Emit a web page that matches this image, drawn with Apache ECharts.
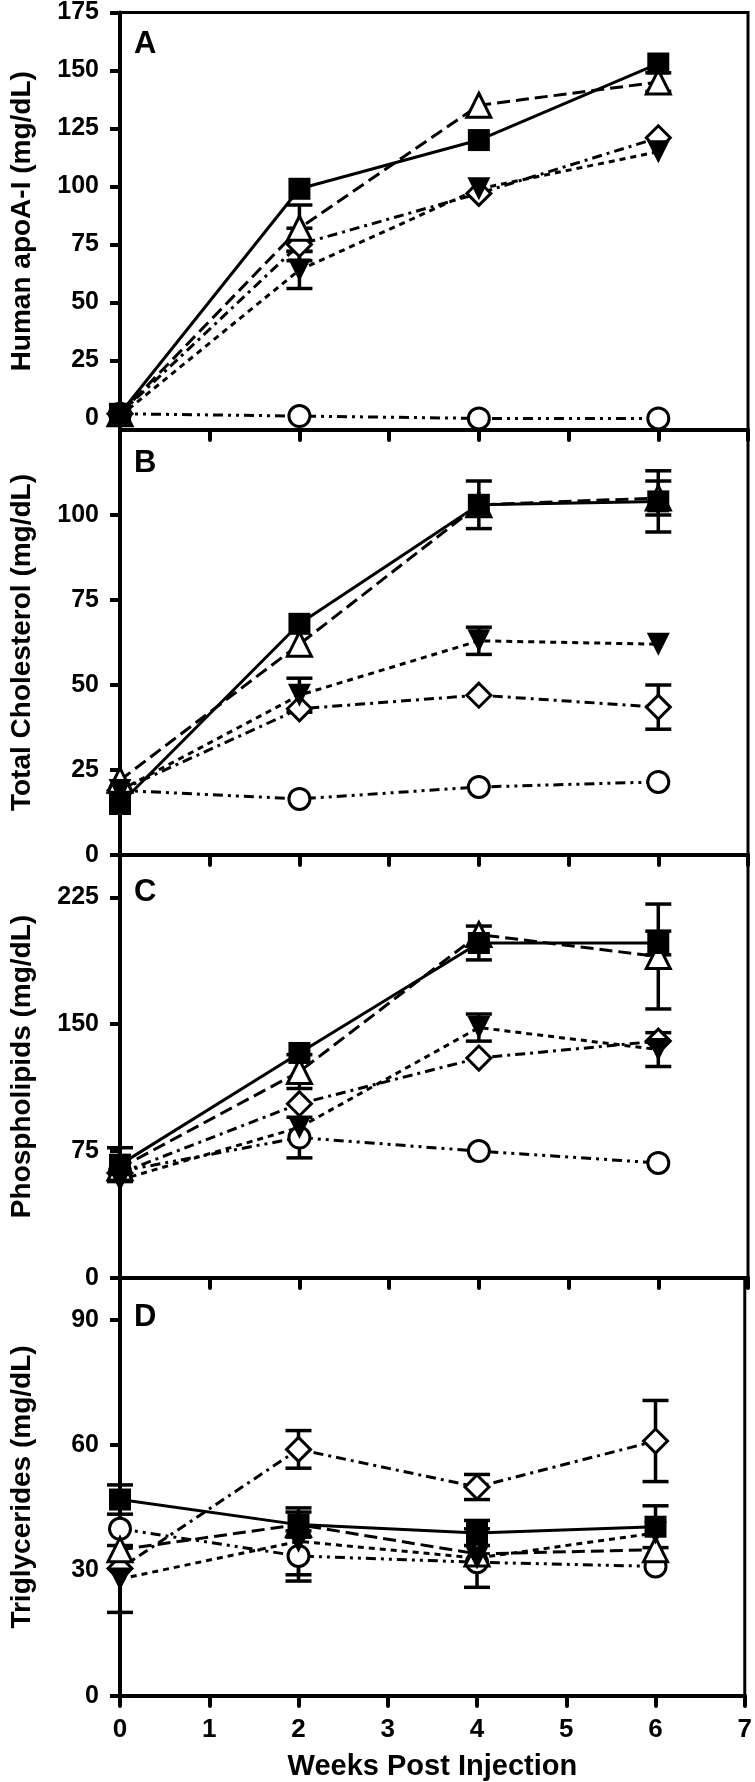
<!DOCTYPE html>
<html>
<head>
<meta charset="utf-8">
<script src="https://cdn.jsdelivr.net/npm/echarts@6/dist/echarts.min.js"></script>
<style>
html,body{margin:0;padding:0;background:#fff;}
#chart{width:755px;height:1782px;}
</style>
</head>
<body>
<div id="chart"></div>
<script>
// ---------------- DATA ----------------
const weeks = [0, 2, 4, 6];
const xTicks = [0, 1, 2, 3, 4, 5, 6, 7];

// Panel A: Human apoA-I (mg/dL)
const apoaTicks = [0, 25, 50, 75, 100, 125, 150, 175];
const apoaSquare      = [2, 99, 120, 153];
const apoaSquareErr   = [0, 0, 0, 0];
const apoaTriangle    = [2, 82, 135, 145];
const apoaTriangleErr = [0, 10, 0, 4];
const apoaDiamond     = [2, 75, 97, 121];
const apoaDiamondErr  = [0, 7, 0, 0];
const apoaInvTri      = [1, 64, 99, 115];
const apoaInvTriErr   = [0, 8, 0, 0];
const apoaCircle      = [2, 1, 0, 0];
const apoaCircleErr   = [0, 0, 0, 0];

// Panel B: Total Cholesterol (mg/dL)
const cholTicks = [0, 25, 50, 75, 100];
const cholSquare      = [15, 68, 103, 104];
const cholSquareErr   = [0, 0, 7, 9];
const cholTriangle    = [22, 62, 103, 105];
const cholTriangleErr = [0, 0, 0, 5];
const cholDiamond     = [19, 43, 47, 43.5];
const cholDiamondErr  = [0, 0, 0, 6.5];
const cholInvTri      = [19, 47, 63, 62];
const cholInvTriErr   = [0, 5, 4, 0];
const cholCircle      = [19, 16.5, 20, 21.5];
const cholCircleErr   = [0, 0, 0, 0];

// Panel C: Phospholipids (mg/dL)
const plTicks = [0, 75, 150, 225];
const plSquare      = [67, 133, 198, 198];
const plSquareErr   = [10, 0, 10, 7];
const plTriangle    = [65, 122, 203, 190];
const plTriangleErr = [0, 10, 0, 31];
const plDiamond     = [62, 103, 130, 140];
const plDiamondErr  = [0, 0, 0, 0];
const plInvTri      = [58, 89, 148, 135];
const plInvTriErr   = [0, 0, 8, 10];
const plCircle      = [63, 83, 75, 68];
const plCircleErr   = [0, 12, 0, 0];

// Panel D: Triglycerides (mg/dL)
const tgTicks = [0, 30, 60, 90];
const tgSquare      = [47, 41, 39, 40.5];
const tgSquareErr   = [3.5, 3, 3, 5];
const tgTriangle    = [35, 41, 34, 35];
const tgTriangleErr = [0, 0, 0, 0];
const tgDiamond     = [30.5, 59, 50, 61];
const tgDiamondErr  = [0, 4.5, 3, 9.7];
const tgInvTri      = [28, 37, 33, 39];
const tgInvTriErr   = [8, 8, 7, 0];
const tgCircle      = [40, 33.5, 32, 31];
const tgCircleErr   = [0, 6, 0, 0];

// ---------------- LAYOUT / STYLE ----------------
const FONT = "'Liberation Sans', Arial, Helvetica, sans-serif";
const GRID_LEFT = 116, GRID_W = 632;

const panels = [
  { letter: 'A', name: 'Human apoA-I (mg/dL)', min: -5, max: 175, step: 5, ticks: apoaTicks, top: 11, height: 419, letterY: 44,
    data: { circle: [apoaCircle, apoaCircleErr], diamond: [apoaDiamond, apoaDiamondErr], invTri: [apoaInvTri, apoaInvTriErr], triangle: [apoaTriangle, apoaTriangleErr], square: [apoaSquare, apoaSquareErr] } },
  { letter: 'B', name: 'Total Cholesterol (mg/dL)', min: 0, max: 125, step: 5, ticks: cholTicks, top: 430, height: 425, letterY: 463,
    data: { circle: [cholCircle, cholCircleErr], diamond: [cholDiamond, cholDiamondErr], invTri: [cholInvTri, cholInvTriErr], triangle: [cholTriangle, cholTriangleErr], square: [cholSquare, cholSquareErr] } },
  { letter: 'C', name: 'Phospholipids (mg/dL)', min: 0, max: 250, step: 5, ticks: plTicks, top: 855, height: 423, letterY: 892,
    data: { circle: [plCircle, plCircleErr], diamond: [plDiamond, plDiamondErr], invTri: [plInvTri, plInvTriErr], triangle: [plTriangle, plTriangleErr], square: [plSquare, plSquareErr] } },
  { letter: 'D', name: 'Triglycerides (mg/dL)', min: 0, max: 100, step: 5, ticks: tgTicks, top: 1278, height: 419, letterY: 1317,
    data: { circle: [tgCircle, tgCircleErr], diamond: [tgDiamond, tgDiamondErr], invTri: [tgInvTri, tgInvTriErr], triangle: [tgTriangle, tgTriangleErr], square: [tgSquare, tgSquareErr] } }
];

const markers = {
  circle:   { symbol: 'circle',   rotate: 0,   filled: false, size: 21, dash: [10, 5, 3, 5, 3, 5] },
  diamond:  { symbol: 'diamond',  rotate: 0,   filled: false, size: 24, dash: [10, 5, 3, 5] },
  invTri:   { symbol: 'triangle', rotate: 180, filled: true,  size: 23, dash: [6, 5] },
  triangle: { symbol: 'triangle', rotate: 0,   filled: false, size: 24, dash: [13, 6] },
  square:   { symbol: 'rect',     rotate: 0,   filled: true,  size: 22, dash: 'solid' }
};
const order = ['circle', 'diamond', 'triangle', 'invTri', 'square'];

const grids = [], xAxes = [], yAxes = [], series = [], graphics = [];

panels.forEach((p, i) => {
  const last = i === panels.length - 1;
  grids.push({ left: GRID_LEFT, width: GRID_W, top: p.top, height: p.height,
    show: true, borderColor: '#000', borderWidth: 3, backgroundColor: 'transparent' });
  xAxes.push({
    type: 'value', gridIndex: i, min: 0, max: 7, interval: 1,
    axisLine: { show: true, onZero: false, lineStyle: { color: '#000', width: 4 } },
    axisTick: { show: true, inside: false, length: 10, lineStyle: { color: '#000', width: 4, cap: 'round' } },
    axisLabel: { show: last, margin: 21, color: '#000', fontFamily: FONT, fontWeight: 'bold', fontSize: 26,
      customValues: xTicks },
    splitLine: { show: false },
    name: last ? 'Weeks Post Injection' : '',
    nameLocation: 'middle', nameGap: 56,
    nameTextStyle: { color: '#000', fontFamily: FONT, fontWeight: 'bold', fontSize: 29 }
  });
  yAxes.push({
    type: 'value', gridIndex: i, min: p.min, max: p.max, interval: p.step,
    axisLine: { show: true, onZero: false, lineStyle: { color: '#000', width: 4 } },
    axisTick: { show: true, inside: false, length: 10, customValues: p.ticks, lineStyle: { color: '#000', width: 4 } },
    axisLabel: { show: true, margin: 21, color: '#000', fontFamily: FONT, fontWeight: 'bold', fontSize: 25, customValues: p.ticks },
    splitLine: { show: false },
    name: p.name, nameLocation: 'middle', nameGap: 84,
    nameTextStyle: { color: '#000', fontFamily: FONT, fontWeight: 'bold', fontSize: 28 }
  });
  order.forEach(key => {
    const m = markers[key];
    const vals = p.data[key][0], errs = p.data[key][1];
    // error bars
    series.push({
      type: 'custom', xAxisIndex: i, yAxisIndex: i, z: 2, silent: true, animation: false,
      encode: { x: 0, y: 1 },
      data: weeks.map((w, j) => [w, vals[j], errs[j]]).filter(d => d[2] > 0),
      renderItem: function (params, api) {
        const x = api.value(0), v = api.value(1), e = api.value(2);
        const t = api.coord([x, v + e]), b = api.coord([x, v - e]);
        const hw = 13;
        const st = { stroke: '#000', lineWidth: 3.5 };
        return { type: 'group', children: [
          { type: 'line', shape: { x1: t[0], y1: t[1], x2: b[0], y2: b[1] }, style: st },
          { type: 'line', shape: { x1: t[0] - hw, y1: t[1], x2: t[0] + hw, y2: t[1] }, style: st },
          { type: 'line', shape: { x1: b[0] - hw, y1: b[1], x2: b[0] + hw, y2: b[1] }, style: st }
        ] };
      }
    });
    series.push({
      type: 'line', xAxisIndex: i, yAxisIndex: i, z: 3, animation: false, silent: true,
      data: weeks.map((w, j) => [w, vals[j]]),
      symbol: m.symbol, symbolSize: m.size, symbolRotate: m.rotate, showSymbol: true,
      lineStyle: { color: '#000', width: 3, type: m.dash },
      itemStyle: { color: m.filled ? '#000' : '#fff', borderColor: '#000', borderWidth: m.filled ? 0 : 3 },
      emphasis: { disabled: true }
    });
  });
  graphics.push({ type: 'text', z: 10, style: { text: p.letter, x: 134, y: p.letterY,
    font: 'bold 31px ' + FONT, fill: '#000', align: 'left', verticalAlign: 'middle' } });
});

const chart = echarts.init(document.getElementById('chart'), null, { renderer: 'canvas' });
chart.setOption({
  backgroundColor: '#fff',
  animation: false,
  grid: grids, xAxis: xAxes, yAxis: yAxes, series: series, graphic: graphics
});
</script>
</body>
</html>
